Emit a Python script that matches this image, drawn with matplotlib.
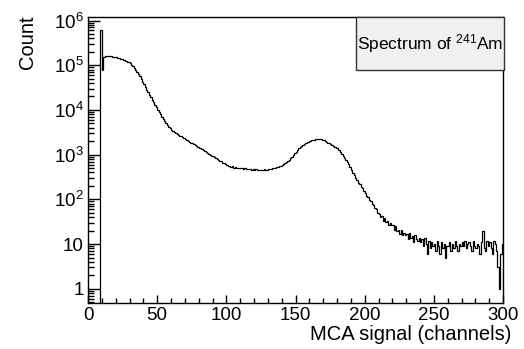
import numpy as np
import matplotlib
matplotlib.use("Agg")
import matplotlib.pyplot as plt
from matplotlib.patches import Rectangle
from matplotlib.ticker import FixedLocator, FixedFormatter, LogLocator, MultipleLocator, NullFormatter

plt.rcParams['font.family'] = ['Liberation Sans', 'DejaVu Sans']
plt.rcParams['mathtext.fontset'] = 'custom'
plt.rcParams['mathtext.rm'] = 'Liberation Sans'
plt.rcParams['mathtext.it'] = 'Liberation Sans:italic'
plt.rcParams['mathtext.bf'] = 'Liberation Sans:bold'

# Counts per MCA channel (channels 0..299)
counts = [
    0, 0, 0, 0, 0, 0, 0, 0, 0, 600000,
    80000, 150000, 157000, 159000, 160000, 159000, 158000, 156000, 154000, 152000,
    150000, 147000, 143000, 139000, 135000, 131500, 128000, 124500, 121000, 117500,
    111000, 103500, 95500, 87100, 79400, 71600, 64600, 56200, 49000, 42700,
    37200, 32400, 28200, 24800, 21900, 19500, 17000, 15000, 13200, 11600,
    10200, 9020, 7940, 7080, 6310, 5690, 5130, 4620, 4220, 3890,
    3630, 3430, 3240, 3090, 2920, 2790, 2660, 2570, 2450, 2340,
    2240, 2150, 2040, 1960, 1850, 1790, 1700, 1610, 1560, 1500,
    1430, 1390, 1320, 1250, 1210, 1150, 1090, 1060, 1000, 950,
    925, 875, 845, 795, 775, 725, 705, 665, 645, 605,
    595, 565, 560, 538, 545, 515, 522, 508, 500, 505,
    490, 498, 482, 490, 476, 488, 470, 480, 462, 474,
    455, 470, 452, 462, 448, 465, 455, 470, 458, 462,
    470, 474, 485, 490, 505, 512, 520, 535, 545, 570,
    596, 620, 650, 672, 710, 765, 830, 905, 975, 1070,
    1160, 1255, 1385, 1495, 1585, 1670, 1770, 1835, 1915, 1965,
    2050, 2080, 2150, 2180, 2220, 2250, 2270, 2250, 2240, 2180,
    2120, 2030, 1960, 1850, 1790, 1690, 1650, 1560, 1510, 1420,
    1380, 1250, 1150, 1010, 935, 835, 765, 685, 605, 520,
    465, 395, 355, 305, 275, 236, 220, 190, 178, 152,
    141, 121, 114, 97, 92, 77, 74, 63, 60, 49,
    47, 40, 42, 33, 38, 31, 32, 27, 29, 26,
    27, 21, 25, 20, 21, 17, 21, 16, 18, 16,
    17, 13, 18, 14, 15, 11, 16, 13, 12, 14,
    11, 13, 9, 14, 10, 6, 12, 8, 11, 9,
    10, 7, 12, 9, 6, 11, 8, 10, 5, 9,
    9, 11, 7, 10, 8, 12, 9, 7, 10, 9,
    11, 9, 12, 8, 10, 11, 9, 7, 12, 9,
    8, 10, 9, 6, 11, 20, 8, 7, 12, 9,
    11, 8, 6, 12, 10, 7, 3, 1, 6, 10,
]
channel_edges = list(range(0, 301))

x_ticks = [0, 50, 100, 150, 200, 250, 300]
x_tick_labels = ["0", "50", "100", "150", "200", "250", "300"]
y_ticks = [1, 10, 1e2, 1e3, 1e4, 1e5, 1e6]
y_tick_labels = ["1", "10", r"$10^{2}$", r"$10^{3}$", r"$10^{4}$", r"$10^{5}$", r"$10^{6}$"]

W, H = 524, 349
fig = plt.figure(figsize=(W / 100, H / 100), dpi=100)
ax = fig.add_axes([88 / W, 46 / H, 415 / W, 286 / H])

vals = np.array(counts, dtype=float)
vals[vals <= 0] = 1e-3
ax.stairs(vals, channel_edges, baseline=None, color='black', lw=0.9)

ax.set_yscale('log')
ax.set_xlim(0, 300)
ax.set_ylim(0.48, 1.2e6)

ax.xaxis.set_major_locator(FixedLocator(x_ticks))
ax.xaxis.set_major_formatter(FixedFormatter(x_tick_labels))
ax.xaxis.set_minor_locator(MultipleLocator(10))
ax.yaxis.set_major_locator(FixedLocator(y_ticks))
ax.yaxis.set_major_formatter(FixedFormatter(y_tick_labels))
ax.yaxis.set_minor_locator(LogLocator(base=10, subs=np.arange(2, 10), numticks=20))
ax.yaxis.set_minor_formatter(NullFormatter())

ax.tick_params(axis='both', which='both', direction='in', top=False, right=False,
               labelsize=13.5, width=1.0, color='black')
ax.tick_params(axis='y', which='major', length=8.5, pad=3)
ax.tick_params(axis='y', which='minor', length=4.5)
ax.tick_params(axis='x', which='major', length=5.5, pad=3)
ax.tick_params(axis='x', which='minor', length=3.5)
for s in ax.spines.values():
    s.set_linewidth(1.0)
    s.set_color('black')

fig.text(27 / W, 1 - 15 / H, "Count", rotation=90, ha='center', va='top', fontsize=14.5)
fig.text(511 / W, 1 - 340 / H, "MCA signal (channels)", ha='right', va='baseline', fontsize=14.5)

box = Rectangle((356 / W, 1 - 70 / H), (504 - 356) / W, (70 - 17) / H,
                transform=fig.transFigure, facecolor='#f0f0f0', edgecolor='#333333',
                lw=1.0, zorder=10)
fig.patches.append(box)
fig.text(430 / W, 1 - 44 / H, r"Spectrum of $^{241}$Am", ha='center', va='center',
         fontsize=12.5, zorder=11)

fig.savefig("out.png", dpi=100)
